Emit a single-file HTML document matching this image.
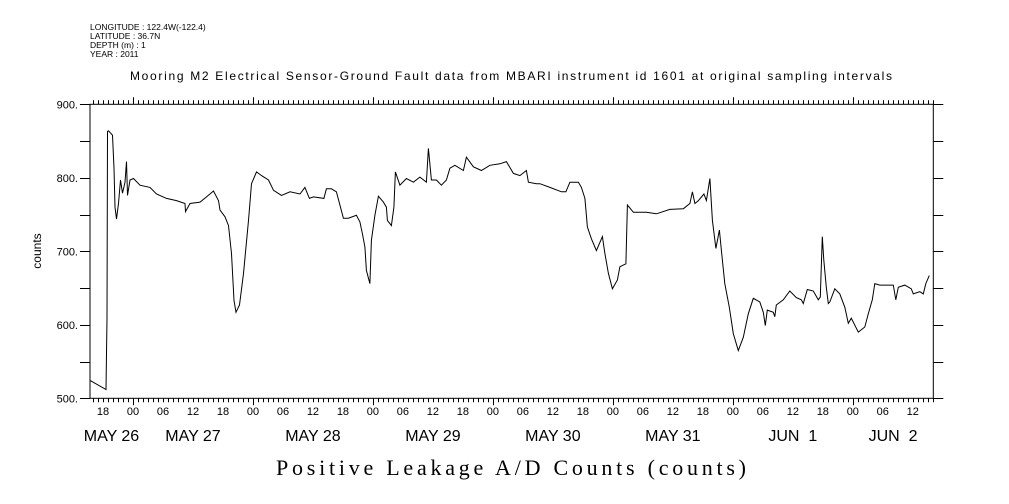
<!DOCTYPE html>
<html><head><meta charset="utf-8">
<style>
html,body{margin:0;padding:0;background:#fff;}
svg{display:block;}
text{font-family:"Liberation Sans",sans-serif;fill:#000;}
</style></head>
<body>
<svg id="chart" width="1009" height="504" viewBox="0 0 1009 504" xmlns="http://www.w3.org/2000/svg">
<g font-size="8.5">
<text x="90" y="30">LONGITUDE : 122.4W(-122.4)</text>
<text x="90" y="39">LATITUDE : 36.7N</text>
<text x="90" y="48">DEPTH (m) : 1</text>
<text x="90" y="57">YEAR : 2011</text>
</g>
<text x="511" y="80" text-anchor="middle" font-size="12" textLength="762">Mooring M2 Electrical Sensor-Ground Fault data from MBARI instrument id 1601 at original sampling intervals</text>
<rect x="90" y="104.3" width="843.3" height="294" fill="none" stroke="#000" stroke-width="1"/>
<g id="ticks"></g>
<g id="labels"></g>
<polyline id="series" fill="none" stroke="#000" stroke-width="1" stroke-linejoin="miter"/>
<text x="41" y="251" transform="rotate(-90 41 251)" text-anchor="middle" font-size="12">counts</text>
<text x="511" y="475" text-anchor="middle" font-family="Liberation Serif, serif" font-size="22" textLength="470" style="font-family:'Liberation Serif',serif">Positive Leakage A/D Counts (counts)</text>
</svg>
<script>
// hours since May 26 00:00 (2011)
const hours = [15.5,18.6,18.8,18.9,19.1,19.9,20.2,20.4,20.7,21.1,21.5,21.9,22.4,22.7,22.9,23.4,24.1,25.4,27.4,28.7,30.7,32.7,34.4,34.5,35.4,37.4,38.7,40.1,41.1,41.4,42.4,43.1,43.7,44.2,44.6,45.3,46.1,47.1,47.7,48.7,49.7,51.1,52.1,53.7,55.4,57.4,58.4,59.3,60.1,62.2,62.7,63.7,64.7,65.4,66.1,67.1,68.7,69.4,69.9,70.4,70.7,71.4,71.7,72.4,73.1,74.1,74.7,74.9,75.7,76.2,76.5,77.4,78.7,80.1,81.4,82.7,83.1,83.7,84.7,85.7,86.7,87.4,88.4,90.1,90.7,92.1,93.7,95.4,97.4,98.7,100.1,101.4,102.7,103.1,104.7,105.4,107.4,109.7,110.6,111.4,113.1,113.7,114.4,114.9,115.7,116.7,117.9,118.4,119.1,119.9,120.9,121.4,122.6,122.9,124.1,126.7,128.7,131.4,134.1,135.4,135.9,136.4,137.1,138.2,138.7,139.4,139.9,140.6,141.3,141.7,142.4,143.3,144.1,145.1,146.1,147.1,148.1,149.4,150.1,150.5,150.9,152.1,152.4,152.7,154.1,155.4,156.7,157.7,158.1,158.9,160.1,161.1,161.5,161.9,162.2,162.7,163.1,163.4,164.4,165.4,166.4,167.1,167.7,169.1,170.4,171.1,171.9,172.4,173.4,174.7,176.1,176.6,177.1,178.4,179.7,180.1,181.4,182.1,182.6,183.3];
const counts = [524,512,609,863,864,858,813,760,744,765,797,779,794,822,776,797,799,790,787,778,772,769,765,754,765,767,774,782,769,756,747,735,697,633,617,627,670,742,792,808,803,797,783,776,781,778,787,772,774,772,785,785,781,763,745,745,749,740,724,706,674,656,715,749,775,767,760,742,735,760,808,790,799,794,801,794,840,797,797,790,797,813,817,810,828,815,810,817,819,822,806,803,810,794,792,792,787,781,781,794,794,787,772,733,717,701,720,697,670,649,661,679,683,763,753,753,751,757,758,765,781,765,769,778,769,799,742,704,729,701,656,624,588,565,583,615,636,631,617,599,620,617,611,627,634,646,637,634,629,648,646,634,638,720,688,651,629,631,649,642,624,602,609,590,597,615,634,656,654,654,654,634,651,654,649,642,645,642,656,667];
const yTicks = [500,600,700,800,900];
const hourLabels = ["18","00","06","12"];
const dayLabels = ["MAY 26","MAY 27","MAY 28","MAY 29","MAY 30","MAY 31","JUN  1","JUN  2"];

const X0=90, X1=933.3, Y0=398.3, Y1=104.3;
const H0=15.4, H1=184.1;
function xs(h){return X0+(h-H0)*(X1-X0)/(H1-H0);}
function ys(v){return Y0-(v-500)*(Y0-Y1)/400;}
const NS="http://www.w3.org/2000/svg";
const tg=document.getElementById('ticks'), lg=document.getElementById('labels');
function line(g,x1,y1,x2,y2,name){const l=document.createElementNS(NS,'line');l.setAttribute('x1',x1);l.setAttribute('y1',y1);l.setAttribute('x2',x2);l.setAttribute('y2',y2);l.setAttribute('stroke','#000');l.setAttribute('stroke-width','1');


g.appendChild(l);}
function txt(g,x,y,s,size,anchor,name){const t=document.createElementNS(NS,'text');t.setAttribute('x',x);t.setAttribute('y',y);t.setAttribute('font-size',size);t.setAttribute('text-anchor',anchor);t.textContent=s;t.setAttribute('xml:space','preserve');t.style.whiteSpace='pre';


g.appendChild(t);return t;}
// x ticks hourly
for(let h=16;h<=184;h++){const x=Math.round(xs(h))+0.5;const major=h%24===0;const len=major?7:4;
line(tg,x,Y0,x,Y0+len,'x-tick');line(tg,x,Y1,x,Y1-len,'x-tick-top');
if(h%6===0 && h>=18 && h<=180){txt(lg,xs(h),415,hourLabels[(h%24)/6===3?0:((h%24)/6+1)%4===0?0:0]&&String(h%24).padStart(2,'0'),11,'middle','hour-label');}}
// day labels
for(let d=0;d<dayLabels.length;d++){const a=Math.max(H0,d*24),b=Math.min(H1,(d+1)*24);
const t=txt(lg,xs((a+b)/2),441,dayLabels[d],16,'middle','date-label');}
// y ticks
for(let v=500;v<=900;v+=50){const y=Math.round(ys(v))+0.5;line(tg,X0-10,y,X0,y,'y-tick');line(tg,X1,y,X1+10,y,'y-tick-right');}
yTicks.forEach(v=>{txt(lg,78,ys(v)+4,v+'.',11,'end','y-tick-label');});
document.getElementById('series').setAttribute('points',hours.map((h,i)=>xs(h).toFixed(1)+','+ys(counts[i]).toFixed(1)).join(' '));
</script>
</body></html>
